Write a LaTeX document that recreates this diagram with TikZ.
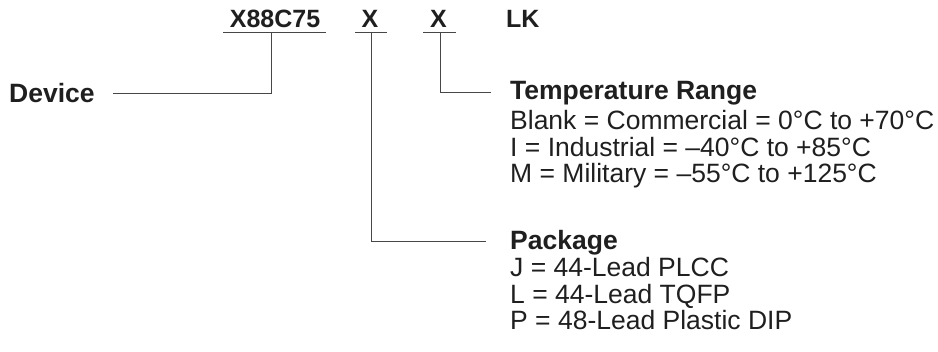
\documentclass[tikz,border=0pt]{standalone}
\usepackage{fontspec}
\setmainfont{Liberation Sans}
\begin{document}
\begin{tikzpicture}[x=1pt,y=-1pt,
  hdr/.style={inner sep=0pt, text=black!88, font=\fontsize{25}{30}\selectfont\bfseries},
  hdrb/.style={inner sep=0pt, text=black!88, font=\fontsize{26.5}{30}\selectfont\bfseries},
  txt/.style={inner sep=0pt, text=black!88, font=\fontsize{26.5}{30}\selectfont},
  ln/.style={draw=black!72, line width=1pt}]
\useasboundingbox (0,0) rectangle (938,352);
% header
\node[hdr, anchor=base] (pn) at (275,28) {X88C75};
\node[hdr, anchor=base] (xp) at (370,28) {X};
\node[hdr, anchor=base] (xt) at (438.5,28) {X};
\node[hdr, anchor=base west] (lk) at (506,28) {LK};
% underlines
\coordinate (pnL) at (223,33);
\coordinate (pnR) at (326,33);
\coordinate (pnU) at (271,33);
\coordinate (xpL) at (355,33);
\coordinate (xpR) at (387,33);
\coordinate (xpU) at (371,33);
\coordinate (xtL) at (423,33);
\coordinate (xtR) at (456,33);
\coordinate (xtU) at (440,33);
\draw[ln] (pnL) -- (pnR);
\draw[ln] (xpL) -- (xpR);
\draw[ln] (xtL) -- (xtR);
% device
\node[hdrb, anchor=base west] (dev) at (9,102.5) {Device};
\coordinate (devE) at (113,94);
\draw[ln] (pnU) |- (devE);
% temperature
\node[hdrb, anchor=base west] (tr) at (510,99.5) {Temperature Range};
\node[txt, anchor=base west] (t1) at (510,130) {Blank = Commercial = 0°C to +70°C};
\node[txt, anchor=base west] (t2) at (510,156.5) {I = Industrial = –40°C to +85°C};
\node[txt, anchor=base west] (t3) at (510,183) {M = Military = –55°C to +125°C};
\coordinate (trW) at (491,93);
\draw[ln] (xtU) |- (trW);
% package
\node[hdrb, anchor=base west] (pk) at (510,249.5) {Package};
\node[txt, anchor=base west] (p1) at (510,277) {J = 44-Lead PLCC};
\node[txt, anchor=base west] (p2) at (510,303.5) {L = 44-Lead TQFP};
\node[txt, anchor=base west] (p3) at (510,330) {P = 48-Lead Plastic DIP};
\coordinate (pkW) at (486,242);
\draw[ln] (xpU) |- (pkW);
\end{tikzpicture}
\end{document}
